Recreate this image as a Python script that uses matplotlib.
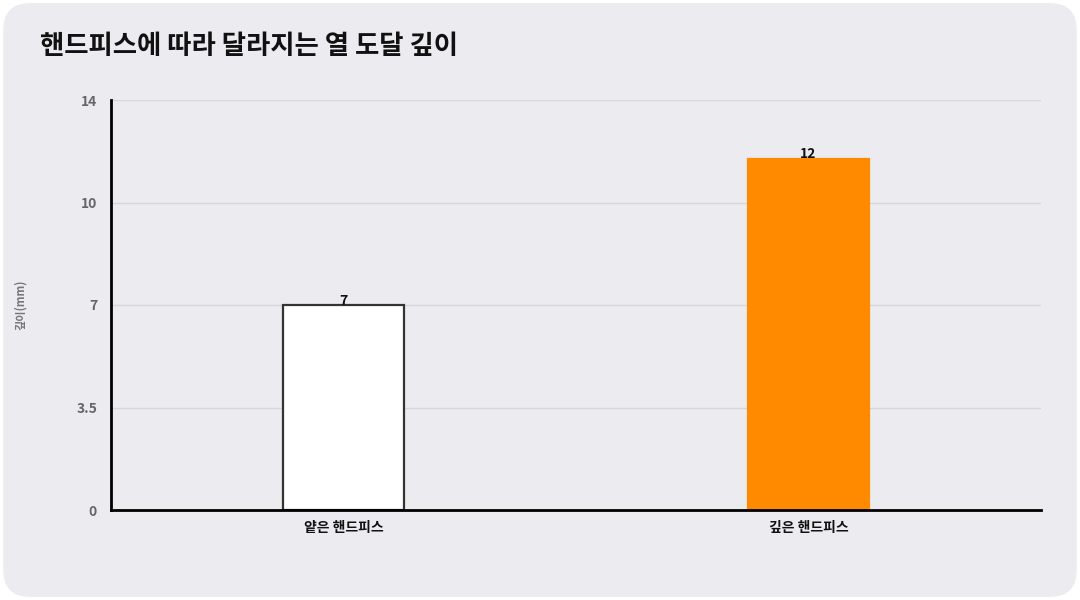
import matplotlib
matplotlib.use('Agg')
import matplotlib.pyplot as plt
from matplotlib.patches import FancyBboxPatch

plt.rcParams['font.family'] = ['Noto Sans CJK KR', 'DejaVu Sans']

# 데이터
categories = ['얕은 핸드피스', '깊은 핸드피스']
depths = [7, 12]
bar_colors = ['#FFFFFF', '#FF8A00']
edge_colors = ['#333333', '#FF8A00']
ytick_vals = [0, 3.5, 7, 10.5, 14]
ytick_labels = ['0', '3.5', '7', '10', '14']

fig = plt.figure(figsize=(10.8, 6), dpi=100)
fig.patch.set_facecolor('white')

# 둥근 배경 패널
bg = FancyBboxPatch((0.003, 0.005), 0.994, 0.99,
                    boxstyle='round,pad=0,rounding_size=0.025',
                    transform=fig.transFigure, facecolor='#ECEBF0',
                    edgecolor='none', zorder=-10, mutation_aspect=1.8)
fig.patches.append(bg)

ax = fig.add_axes([111/1080, 90/600, 930/1080, 410/600])
ax.set_facecolor('none')
ax.set_zorder(2)

x = list(range(len(categories)))
bars = ax.bar(x, depths, width=0.26, color=bar_colors,
              edgecolor=edge_colors, linewidth=1.6, zorder=3)

for xi, v in zip(x, depths):
    ax.text(xi, v - 0.1, str(v), ha='center', va='bottom',
            fontsize=10, fontweight='bold', color='#111111', zorder=4)

ax.set_xlim(-0.5, 1.5)
ax.set_ylim(0, 14)
ax.set_xticks(x)
ax.set_xticklabels(categories, fontsize=10, fontweight='bold', color='#111111')
ax.set_yticks(ytick_vals)
ax.set_yticklabels(ytick_labels, fontsize=10, fontweight='bold', color='#666666')
ax.tick_params(axis='both', length=0, pad=10)
ax.tick_params(axis='x', pad=8)

ax.grid(axis='y', color='#D6D5DC', linewidth=1, zorder=0)
ax.set_axisbelow(True)

for s in ['top', 'right']:
    ax.spines[s].set_visible(False)
for s in ['left', 'bottom']:
    ax.spines[s].set_color('#000000')
    ax.spines[s].set_linewidth(2)
    ax.spines[s].set_zorder(5)

fig.text(20/1080, 1 - 305/600, '깊이(mm)', rotation=90, ha='center', va='center',
         fontsize=8, fontweight='bold', color='#777777')

fig.text(40/1080, 1 - 47/600, '핸드피스에 따라 달라지는 열 도달 깊이', ha='left', va='center',
         fontsize=19, fontweight='bold', color='#111111')

fig.savefig('out.png', dpi=100, facecolor=fig.get_facecolor())
